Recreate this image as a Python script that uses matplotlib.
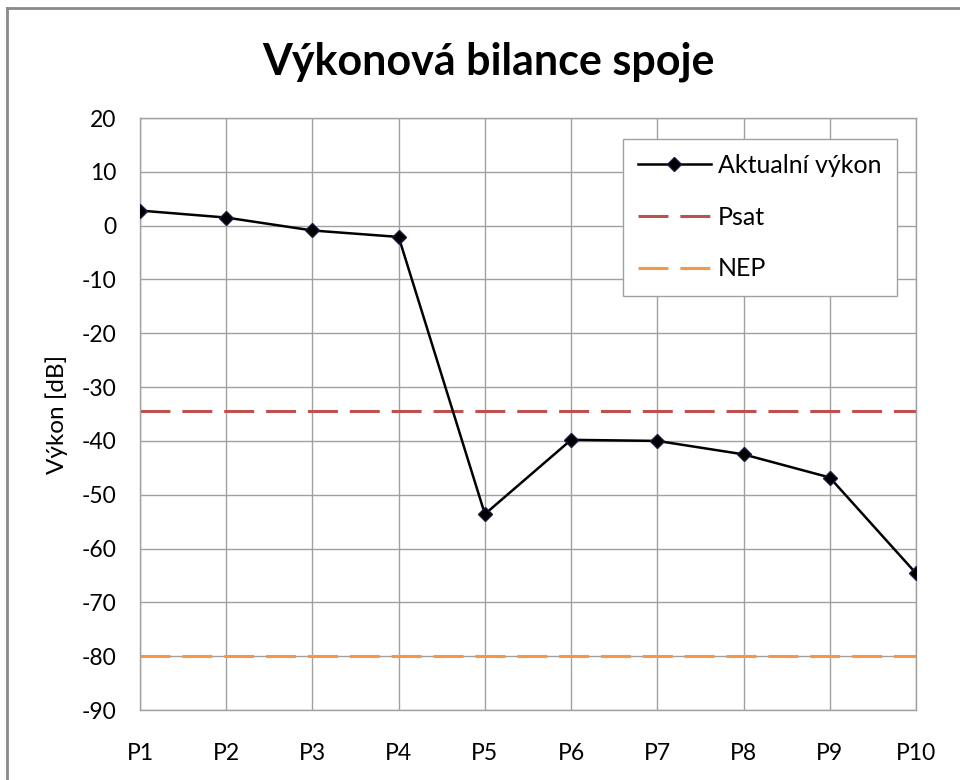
import matplotlib.pyplot as plt
from matplotlib.lines import Line2D

plt.rcParams["font.family"] = ["Lato", "DejaVu Sans"]
plt.rcParams["axes.unicode_minus"] = False

POINTS = ["P1", "P2", "P3", "P4", "P5", "P6", "P7", "P8", "P9", "P10"]
AKTUALNI = [2.8, 1.5, -0.9, -2.1, -53.6, -39.8, -40.0, -42.5, -46.8, -64.6]
PSAT = -34.5
NEP = -80.0
YTICKS = list(range(-90, 21, 10))

GRID = "#a0a0a0"
RED = "#C0504D"
ORANGE = "#F79646"
DASH = (9.8, 3.9)

fig = plt.figure(figsize=(9.6, 7.8), dpi=100)
ax = fig.add_axes([140 / 960, 70 / 780, 776 / 960, 592 / 780])

x = list(range(len(POINTS)))
ax.axhline(PSAT, color=RED, lw=2.2, dashes=DASH, zorder=2)
ax.axhline(NEP, color=ORANGE, lw=2.2, dashes=DASH, zorder=2)
ax.plot(x, AKTUALNI, color="black", lw=1.8, marker="D", markersize=7.5,
        markerfacecolor="black", markeredgecolor="#1a1a40", zorder=3)

ax.set_xlim(0, len(POINTS) - 1)
ax.set_ylim(-90, 20)
ax.set_xticks(x)
ax.set_xticklabels(POINTS)
ax.set_yticks(YTICKS)
ax.grid(True, color=GRID, lw=1.0)
ax.set_axisbelow(True)
for s in ax.spines.values():
    s.set_color(GRID)
    s.set_linewidth(1.0)
ax.tick_params(length=0, labelsize=16.5, colors="black")
ax.tick_params(axis="x", pad=24)
ax.tick_params(axis="y", pad=17)
ax.set_ylabel("Výkon [dB]", fontsize=17.5, labelpad=10)

fig.text(488 / 960, 1 - 62 / 780, "Výkonová bilance spoje", ha="center", va="center",
         fontsize=31, fontweight="bold")

handles = [
    Line2D([], [], color="black", lw=1.8, marker="D", markersize=7.5,
           markeredgecolor="#1a1a40", label="Aktualní výkon"),
    Line2D([], [], color=RED, lw=2.2, dashes=DASH, label="Psat"),
    Line2D([], [], color=ORANGE, lw=2.2, dashes=DASH, label="NEP"),
]
leg = ax.legend(handles=handles, loc="upper left",
                bbox_to_anchor=((623 - 140) / 776, (710 - 139) / 592),
                fontsize=18, fancybox=False, framealpha=1, edgecolor=GRID,
                handlelength=2.9, labelspacing=1.15, borderpad=0.6,
                handletextpad=0.3, borderaxespad=0)
leg.get_frame().set_linewidth(1.0)

# outer chart border (left and top visible)
fig.add_artist(Line2D([7 / 960, 7 / 960], [0, 1 - 8 / 780], color="#8a8a8a", lw=2,
                      transform=fig.transFigure))
fig.add_artist(Line2D([7 / 960, 1], [1 - 8 / 780, 1 - 8 / 780], color="#8a8a8a", lw=2,
                      transform=fig.transFigure))

fig.savefig("out.png", dpi=100)
